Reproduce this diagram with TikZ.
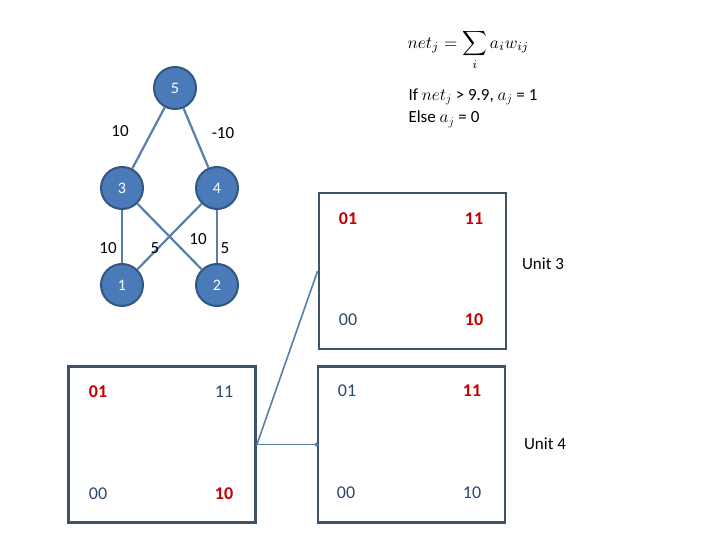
\documentclass[tikz,border=0pt]{standalone}
\usepackage{fontspec}
\setmainfont{Carlito}
\definecolor{cfill}{RGB}{74,122,184}
\definecolor{cdraw}{RGB}{50,86,130}
\definecolor{edge}{RGB}{88,126,170}
\definecolor{boxc}{RGB}{64,82,106}
\definecolor{txt}{RGB}{44,72,108}
\definecolor{red}{RGB}{192,0,0}
\begin{document}
\begin{tikzpicture}[x=1pt,y=-1pt,
  unit/.style={circle,fill=cfill,draw=cdraw,line width=2pt,minimum size=42pt,inner sep=0pt,text=white,font=\fontsize{16}{19}\selectfont},
  conn/.style={draw=edge,line width=2.2pt},
  wlab/.style={font=\fontsize{17}{20}\selectfont,text=black},
  kbox/.style={draw=boxc,line width=2.8pt,minimum width=187pt,minimum height=156pt,inner sep=0pt},
  cl/.style={font=\fontsize{18}{21}\selectfont,text=txt},
  cr/.style={font=\bfseries\fontsize{18}{21}\selectfont,text=red},
  plain/.style={font=\fontsize{17}{20}\selectfont,text=black}]
\useasboundingbox (0,0) rectangle (720,540);
% network
\node[unit] (n5) at (175,88) {5};
\node[unit] (n3) at (122,188) {3};
\node[unit] (n4) at (217,188) {4};
\node[unit] (n1) at (122,285) {1};
\node[unit] (n2) at (217,285) {2};
\draw[conn] (n5) -- (n3);
\draw[conn] (n5) -- (n4);
\draw[conn] (n3) -- (n1);
\draw[conn] (n4) -- (n2);
\draw[conn] (n3) -- (n2);
\draw[conn] (n4) -- (n1);
\node[wlab] (w53) at (120,131) {10};
\node[wlab] (w54) at (223,133) {-10};
\node[wlab] (w31) at (108,248) {10};
\node[wlab] (w41) at (155,248) {5};
\node[wlab] (w32) at (198,239) {10};
\node[wlab] (w42) at (225,248) {5};
% formula
\node[anchor=west] (f) at (404,50) {\scalebox{1.72}{$\displaystyle net_j=\sum_i a_i w_{ij}$}};
\node[anchor=west,plain] (r1) at (405,97) {If $net_j$ > 9.9, $a_j$ = 1};
\node[anchor=west,plain] (r2) at (405,119) {Else $a_j$ = 0};
% boxes
\node[kbox] (bL) at (162,444.5) {};
\node[kbox] (b3) at (412.5,271) {};
\node[kbox] (b4) at (411.5,444.5) {};
% left box labels
\node[cr] (L01) at (98,392) {01};
\node[cl] (L11) at (224,392) {11};
\node[cl] (L00) at (98,494) {00};
\node[cr] (L10) at (224,494) {10};
% unit 3
\node[cr] (a01) at (348,219) {01};
\node[cr] (a11) at (474,219) {11};
\node[cl] (a00) at (348,320) {00};
\node[cr] (a10) at (474,320) {10};
\node[plain] (u3) at (543,264) {Unit 3};
% unit 4
\node[cl] (c01) at (347,391) {01};
\node[cr] (c11) at (472,391) {11};
\node[cl] (c00) at (346,493) {00};
\node[cl] (c10) at (472,493) {10};
\node[plain] (u4) at (545,444) {Unit 4};
% connectors
\draw[draw=edge,line width=1.6pt] (bL.east) -- (b3.west);
\draw[draw=edge,line width=1.6pt] (bL.east) -- (b4.west);
\fill[edge] (b4.west) circle (2pt);
\end{tikzpicture}
\end{document}
